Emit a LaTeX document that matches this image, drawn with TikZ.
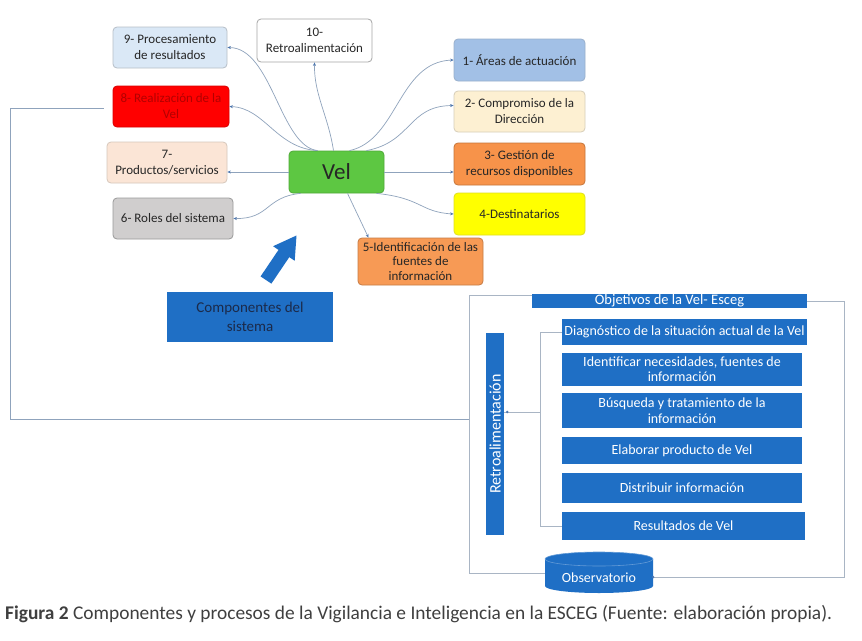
\documentclass[tikz,border=0pt]{standalone}
\usepackage{fontspec}
\setmainfont{Carlito}
\usetikzlibrary{arrows.meta}
\definecolor{vblue}{HTML}{1F6FC5}
\definecolor{lineblue}{HTML}{8FA3BC}
\definecolor{tipblue}{HTML}{4F78B0}
\definecolor{framegray}{HTML}{A9B5C4}
\definecolor{c9}{HTML}{DAE8F6}
\definecolor{c8}{HTML}{FF0000}
\definecolor{c7}{HTML}{FBE5D6}
\definecolor{c6}{HTML}{D0CECE}
\definecolor{cvel}{HTML}{5DC742}
\definecolor{c5}{HTML}{F79A55}
\definecolor{c1}{HTML}{A2C0E6}
\definecolor{c2}{HTML}{FDF0D2}
\definecolor{c3}{HTML}{F7934A}
\definecolor{c4}{HTML}{FFFF00}
\definecolor{captc}{HTML}{3F3F3F}
\definecolor{navy}{HTML}{1B2A4A}
\begin{document}
\begin{tikzpicture}[x=1pt,y=-1pt,
  tbox/.style={rectangle, rounded corners=4pt, line width=0.8pt, align=center,
    inner sep=1pt, font=\fontsize{13}{16}\selectfont, text=black!85},
  bbar/.style={rectangle, fill=vblue, text=white, align=center, inner sep=0pt,
    font=\fontsize{14}{16}\selectfont},
  conn/.style={draw=lineblue, line width=0.7pt, -{Stealth[length=3.5pt,width=3pt,color=tipblue]}},
  frame/.style={draw=framegray, line width=0.8pt}]
\useasboundingbox (0,0) rectangle (862,640);
\fill[white] (0,0) rectangle (862,640);

% top mind-map nodes
\node[tbox, fill=c9, draw=c9!60!gray, minimum width=114pt, minimum height=41pt] (n9) at (170,47.5) {9- Procesamiento\\de resultados};
\node[tbox, fill=white, draw=gray!70, minimum width=115pt, minimum height=43pt] (n10) at (314.5,40.5) {10-\\Retroalimentación};
\node[tbox, fill=c8, draw=c8!85!black, text=red!70!black, minimum width=116pt, minimum height=41pt] (n8) at (171,106.5) {8- Realización de la\\Vel};
\node[tbox, fill=c7, draw=c7!70!gray, minimum width=120pt, minimum height=41pt] (n7) at (167,162.5) {7-\\Productos/servicios};
\node[tbox, fill=c6, draw=gray!80, minimum width=120pt, minimum height=41pt] (n6) at (173,218.5) {6- Roles del sistema};
\node[tbox, fill=cvel, draw=cvel!85!black, minimum width=95pt, minimum height=42pt, font=\fontsize{23}{27}\selectfont] (vel) at (336.5,172) {Vel};
\node[tbox, fill=c5, draw=c5!80!black, minimum width=125pt, minimum height=47pt, font=\fontsize{13}{14.5}\selectfont] (n5) at (420.5,261.5) {5-Identificación de las\\fuentes de\\información};
\node[tbox, fill=c1, draw=c1!75!gray, minimum width=131pt, minimum height=42pt] (n1) at (519.5,60) {1- Áreas de actuación};
\node[tbox, fill=c2, draw=c2!70!gray, minimum width=131pt, minimum height=41pt] (n2) at (519.5,111.5) {2- Compromiso de la\\Dirección};
\node[tbox, fill=c3, draw=c3!80!black, minimum width=131pt, minimum height=42pt] (n3) at (519.5,164) {3- Gestión de\\recursos disponibles};
\node[tbox, fill=c4, draw=c4!75!gray, minimum width=131pt, minimum height=42pt] (n4) at (519.5,214) {4-Destinatarios};

% connectors from Vel
\draw[conn] ([xshift=-19pt]vel.north) .. controls (280,146) and (272,48) .. (n9.east);
\draw[conn] ([xshift=-19pt]vel.north) .. controls (276,148) and (265,108) .. (n8.east);
\draw[conn] ([xshift=-3pt]vel.north) .. controls (328,115) and (314,95) .. (n10.south);
\draw[conn] ([xshift=13pt]vel.north) .. controls (398,140) and (398,62) .. (n1.west);
\draw[conn] ([xshift=30pt]vel.north) .. controls (412,142) and (408,106) .. ([yshift=6pt]n2.west);
\draw[conn] (vel.east) -- (vel.east -| n3.west);
\draw[conn] (vel.west) -- (vel.west -| n7.east);
\draw[conn] ([xshift=40pt]vel.south) .. controls (422,198) and (420,212) .. (n4.west);
\draw[conn] ([xshift=11pt]vel.south) -- ([xshift=-52pt]n5.north);
\draw[conn] ([xshift=-36pt]vel.south) .. controls (265,197) and (270,219) .. (n6.east);

% Componentes del sistema and arrow
\node[rectangle, fill=vblue, minimum width=166pt, minimum height=50pt, align=center,
  text=navy, font=\fontsize{15}{19}\selectfont] (comp) at (250,317) {Componentes del\\sistema};
\fill[vblue] (260.6,276.4) -- (278.5,249.9) -- (273.1,246.2) -- (296.5,235.5) -- (294.7,260.8) -- (289.3,257.1) -- (271.4,283.6) -- cycle;

% lower right process
\node[bbar, minimum width=275pt, minimum height=14pt, font=\fontsize{14.5}{16}\selectfont] (obj) at (669.5,301) {Objetivos de la Vel- Esceg};
\node[bbar, minimum width=245pt, minimum height=26pt] (diag) at (684.5,332) {Diagnóstico de la situación actual de la Vel};
\node[bbar, minimum width=240pt, minimum height=33pt, font=\fontsize{14}{15}\selectfont] (ident) at (682,369.5) {Identificar necesidades, fuentes de\\información};
\node[bbar, minimum width=240pt, minimum height=35pt, font=\fontsize{14}{16}\selectfont] (busq) at (682,410.5) {Búsqueda y tratamiento de la\\información};
\node[bbar, minimum width=240pt, minimum height=27pt] (elab) at (682,450.5) {Elaborar producto de Vel};
\node[bbar, minimum width=240pt, minimum height=30pt] (dist) at (682,488) {Distribuir información};
\node[bbar, minimum width=243pt, minimum height=28pt] (res) at (683.5,526) {Resultados de Vel};
\node[bbar, minimum width=18pt, minimum height=202pt] (retro) at (495,434) {};
\node[text=white, rotate=90, font=\fontsize{16}{18}\selectfont, inner sep=0pt] at (retro.center) {Retroalimentación};

% Observatorio cylinder
\node[minimum width=108pt, minimum height=41pt, inner sep=0pt] (obs) at (599,572.5) {};
\fill[vblue] (545,559) -- (545,586) arc[start angle=180, end angle=0, x radius=54, y radius=7]
  -- (653,559) arc[start angle=0, end angle=-180, x radius=54, y radius=7] -- cycle;
\draw[vblue!70!white, line width=0.6pt] (599,559) ellipse[x radius=54, y radius=7];
\node[text=white, font=\fontsize{14}{16}\selectfont, inner sep=0pt] at (599,578) {Observatorio};

% frame and bracket
\coordinate (fbr) at (844,577);
\coordinate (fbl) at (469,573);
\coordinate (bx) at (540,0);
\coordinate (bm) at (540,412);
\coordinate (fl) at (469,419);
\draw[frame] ([yshift=6pt]obj.west) -| (fbl) -- (obs.west |- fbl);
\draw[frame] (obj.east) -| (fbr) -- (obs.east |- fbr);
\fill[tipblue] (obs.east |- fbr) circle (1.3pt);
\draw[frame] (diag.west) -- (diag.west -| bx) -- (res.west -| bx) -- (res.west);
\draw[frame] (bm) -- (bm -| retro.east);
\fill[tipblue] (bm -| retro.east) ++(3,0) circle (1.3pt);
\draw[frame, draw=lineblue] (fl) -- (10,419) -- (10,108) -- ([xshift=-9pt,yshift=-1.5pt]n8.west);

% caption
\node[anchor=west, inner sep=0pt, text=captc] (cap) at (5,614)
  {\resizebox{827pt}{!}{\textbf{Figura 2} Componentes y procesos de la Vigilancia e Inteligencia en la ESCEG (Fuente: elaboración propia).}};
\end{tikzpicture}
\end{document}
